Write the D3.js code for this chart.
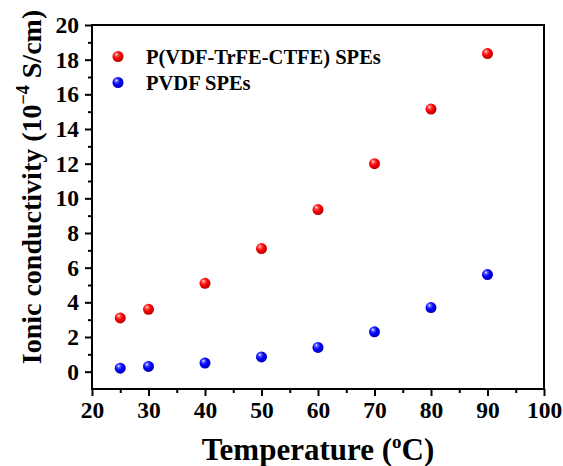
<!DOCTYPE html>
<html>
<head>
<meta charset="utf-8">
<script src="https://cdn.jsdelivr.net/npm/d3@7"></script>
<style>
  html, body { margin: 0; padding: 0; background: #fff; }
  svg { display: block; }
</style>
</head>
<body>
<svg id="chart" width="563" height="466"></svg>
<script>
// Temperatures (°C) and ionic conductivity (10^-4 S/cm)
const temperatures = [25, 30, 40, 50, 60, 70, 80, 90];
const terpolymerValues = [3.1, 3.6, 5.1, 7.1, 9.35, 12.0, 15.15, 18.35];
const pvdfValues = [0.2, 0.3, 0.5, 0.85, 1.4, 2.3, 3.7, 5.6];
const seriesNames = ["P(VDF-TrFE-CTFE) SPEs", "PVDF SPEs"];
const seriesColors = ["#ff0000", "#0000ff"];
const xTicks = [20, 30, 40, 50, 60, 70, 80, 90, 100];
const yTicks = [0, 2, 4, 6, 8, 10, 12, 14, 16, 18, 20];

const FONT = '"Liberation Serif", "Times New Roman", serif';
const svg = d3.select("#chart");
const margin = { left: 92, right: 19, top: 25, bottom: 77 };
const W = 563, H = 466;

const x = d3.scaleLinear().domain([20, 100]).range([margin.left, W - margin.right]);
const y = d3.scaleLinear().domain([-1, 20]).range([H - margin.bottom, margin.top]);

function styleText(sel, size) {
  sel.style("font-family", FONT).style("font-weight", "bold")
     .style("font-size", size + "px").style("fill", "#000");
}

// Sphere-like gradients for the markers
const defs = svg.append("defs");
function sphere(id, base) {
  const g = defs.append("radialGradient").attr("id", id)
    .attr("cx", "40%").attr("cy", "38%").attr("r", "62%").attr("fx", "35%").attr("fy", "30%");
  g.append("stop").attr("offset", "0%").attr("stop-color", "#ffffff");
  g.append("stop").attr("offset", "22%").attr("stop-color", d3.interpolateRgb("#fff", base)(0.65));
  g.append("stop").attr("offset", "55%").attr("stop-color", base);
  g.append("stop").attr("offset", "100%").attr("stop-color", d3.interpolateRgb(base, "#000")(0.3));
}
sphere("ballRed", seriesColors[0]);
sphere("ballBlue", seriesColors[1]);
const fills = ["url(#ballRed)", "url(#ballBlue)"];

// Frame
const x0 = x(20), x1 = x(100), yTop = y(20), yBot = y(-1);
svg.append("rect").attr("x", x0).attr("y", yTop).attr("width", x1 - x0).attr("height", yBot - yTop)
  .attr("fill", "none").attr("stroke", "#000").attr("stroke-width", 2);

// X axis
const xAxis = svg.append("g").attr("transform", `translate(0,${yBot})`)
  .call(d3.axisBottom(x).tickValues(xTicks).tickSize(7).tickPadding(5).tickFormat(d3.format("d")));
xAxis.select(".domain").remove();
xAxis.selectAll("line").attr("stroke-width", 2);
styleText(xAxis.selectAll("text"), 23.5);
const xMinor = svg.append("g").attr("transform", `translate(0,${yBot})`)
  .call(d3.axisBottom(x).tickValues(d3.range(25, 100, 10)).tickSize(4).tickFormat(""));
xMinor.select(".domain").remove();
xMinor.selectAll("line").attr("stroke-width", 2);

// Y axis
const yAxis = svg.append("g").attr("transform", `translate(${x0},0)`)
  .call(d3.axisLeft(y).tickValues(yTicks).tickSize(7).tickPadding(6).tickFormat(d3.format("d")));
yAxis.select(".domain").remove();
yAxis.selectAll("line").attr("stroke-width", 2);
styleText(yAxis.selectAll("text"), 23.5);
const yMinor = svg.append("g").attr("transform", `translate(${x0},0)`)
  .call(d3.axisLeft(y).tickValues(d3.range(1, 20, 2)).tickSize(4).tickFormat(""));
yMinor.select(".domain").remove();
yMinor.selectAll("line").attr("stroke-width", 2);

// Data points
[terpolymerValues, pvdfValues].forEach((vals, i) => {
  svg.append("g").selectAll("circle").data(vals).join("circle")
    .attr("cx", (d, j) => x(temperatures[j]))
    .attr("cy", d => y(d))
    .attr("r", 5.5)
    .attr("fill", fills[i]);
});

// Legend
const legend = svg.append("g");
seriesNames.forEach((name, i) => {
  const ly = 56.5 + i * 26;
  legend.append("circle").attr("cx", 118).attr("cy", ly).attr("r", 5.5).attr("fill", fills[i]);
  styleText(legend.append("text").attr("x", 146).attr("y", ly + 7).text(name), 20.5);
});

// Axis titles
const xt = svg.append("text").attr("x", (x0 + x1) / 2).attr("y", 460).attr("text-anchor", "middle");
styleText(xt, 31);
xt.append("tspan").text("Temperature (");
xt.append("tspan").style("font-size", "19px").attr("dy", -12).text("o");
xt.append("tspan").attr("dy", 12).text("C)");

const yt = svg.append("text")
  .attr("transform", `translate(41,187) rotate(-90)`).attr("text-anchor", "middle");
styleText(yt, 28);
yt.append("tspan").text("Ionic conductivity (10");
yt.append("tspan").style("font-size", "18px").attr("dy", -12).text("−4");
yt.append("tspan").attr("dy", 12).text(" S/cm)");
</script>
</body>
</html>
